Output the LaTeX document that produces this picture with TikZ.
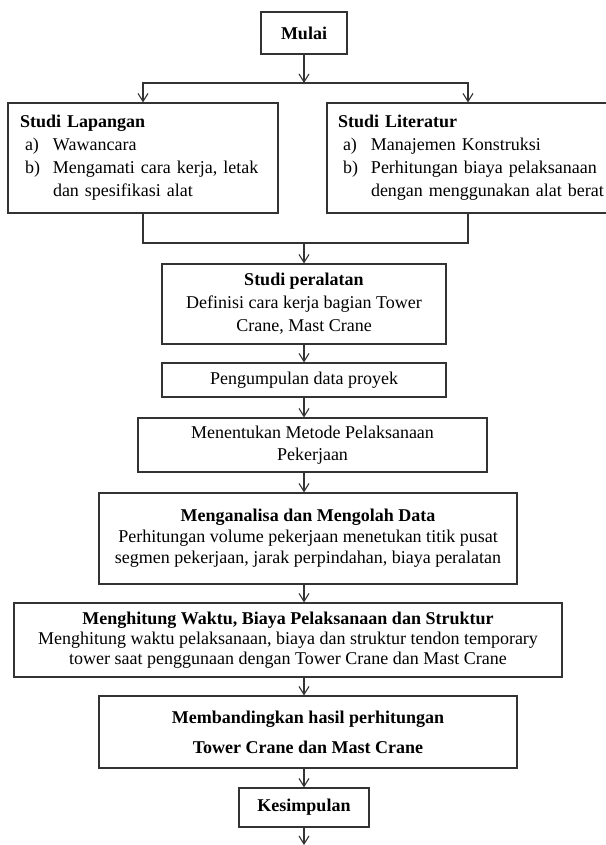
\documentclass[tikz,border=0pt]{standalone}
\usepackage{fontspec}
\setmainfont{Liberation Serif}
\usetikzlibrary{arrows.meta}

\tikzset{
  kotak/.style={draw=black!80, line width=1.1pt, inner sep=0pt, align=center,
    font=\fontsize{18}{23}\selectfont},
  daftar/.style={align=left, minimum height=110},
  panah/.style={draw=black!80, line width=1.1pt, -{Straight Barb[length=8pt,width=10pt]}},
  garis/.style={draw=black!80, line width=1.1pt}
}
\newcommand{\butir}[2]{\mbox{\makebox[33pt][l]{\hspace{5pt}#1}#2}}

\begin{document}
\begin{tikzpicture}[x=1pt,y=-1pt]
        \useasboundingbox (0,0) rectangle (605,845);

        \draw (304,33) node[kotak, minimum width=86, minimum height=42] (mulai) {\textbf{Mulai}};
        \draw (143,158) node[kotak, daftar, text width=246, inner xsep=12] (lap)
            {\textbf{Studi Lapangan}\\ \butir{a)}{Wawancara}\\ \butir{b)}{Mengamati cara kerja, letak}\\ \butir{}{dan spesifikasi alat}};
        \draw (468,158) node[kotak, daftar, text width=260, inner xsep=11] (lit)
            {\textbf{Studi Literatur}\\ \butir{a)}{Manajemen Konstruksi}\\ \butir{b)}{Perhitungan biaya pelaksanaan}\\ \butir{}{dengan menggunakan alat berat}};
        \draw (304,304) node[kotak, minimum width=284, minimum height=80] (alat)
            {\textbf{Studi peralatan}\\Definisi cara kerja bagian Tower\\Crane, Mast Crane};
        \draw (304,380) node[kotak, minimum width=284, minimum height=34] (data) {Pengumpulan data proyek};
        \draw (312.5,445) node[kotak, minimum width=349, minimum height=54, font=\fontsize{18}{21.5}\selectfont] (metode)
            {Menentukan Metode Pelaksanaan\\Pekerjaan};
        \draw (308,538.5) node[kotak, minimum width=418, minimum height=91, font=\fontsize{18}{21}\selectfont] (olah)
            {\textbf{Menganalisa dan Mengolah Data}\\Perhitungan volume pekerjaan menetukan titik pusat\\segmen pekerjaan, jarak perpindahan, biaya peralatan};
        \draw (288,640) node[kotak, minimum width=548, minimum height=74, font=\fontsize{18}{20}\selectfont] (hitung)
            {\textbf{Menghitung Waktu, Biaya Pelaksanaan dan Struktur}\\Menghitung waktu pelaksanaan, biaya dan struktur tendon temporary\\tower saat penggunaan dengan Tower Crane dan Mast Crane};
        \draw (308,732) node[kotak, minimum width=418, minimum height=72, font=\fontsize{18}{30}\selectfont] (banding)
            {\textbf{Membandingkan hasil perhitungan}\\\textbf{Tower Crane dan Mast Crane}};
        \draw (304,807.5) node[kotak, minimum width=130, minimum height=39] (simpul) {\textbf{Kesimpulan}};

        \coordinate (pisah) at (304,83);
        \coordinate (gabung) at (304,243);
        \coordinate (akhir) at (304,845);

        \draw[panah] (mulai) -- (pisah);
        \draw[panah] (pisah) -| (lap);
        \draw[panah] (pisah) -| (lit);
        \draw[garis] (lap) |- (gabung) -| (lit);
        \draw[panah] (gabung) -- (alat);
        \draw[panah] (alat) -- (data);
        \draw[panah] (data.south -| pisah) -- (metode.north -| pisah);
        \draw[panah] (metode.south -| pisah) -- (olah.north -| pisah);
        \draw[panah] (olah.south -| pisah) -- (hitung.north -| pisah);
        \draw[panah] (hitung.south -| pisah) -- (banding.north -| pisah);
        \draw[panah] (banding.south -| pisah) -- (simpul);
        \draw[panah] (simpul) -- (akhir);
    \end{tikzpicture}
\end{document}
